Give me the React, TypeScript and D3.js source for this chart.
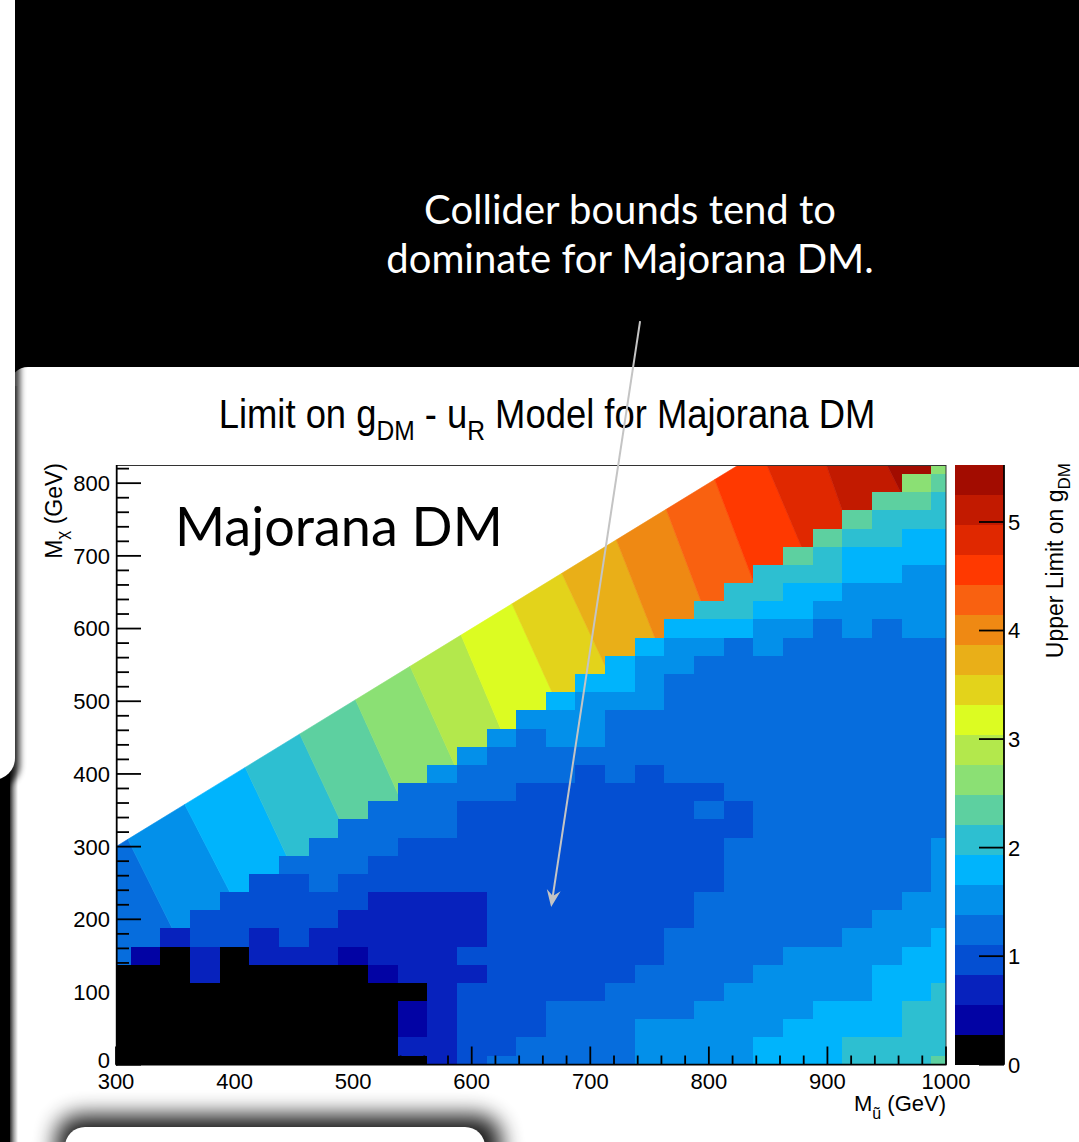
import React from "react";
import * as d3 from "d3";

const W = 1079;
const H = 1142;

// ---------- axes / categories ----------
const muColumns = [300, 325, 350, 375, 400, 425, 450, 475, 500, 525, 550, 575, 600, 625, 650, 675, 700, 725, 750, 775, 800, 825, 850, 875, 900, 925, 950, 975, 1000];
const chiRows = [0, 25, 50, 75, 100, 125, 150, 175, 200, 225, 250, 275, 300, 325, 350, 375, 400, 425, 450, 475, 500, 525, 550, 575, 600, 625, 650, 675, 700, 725, 750, 775, 800, 825];
const xMajorTicks = [300, 400, 500, 600, 700, 800, 900, 1000];
const yMajorTicks = [0, 100, 200, 300, 400, 500, 600, 700, 800];
const zTicks = [0, 1, 2, 3, 4, 5];
const zRange = [0, 5.525];

// ---------- upper limit on g_DM per M_chi row (values end at M_u = 1000) ----------
const chi000 = [0, 0, 0, 0, 0, 0, 0, 0, 0, 0, 0, 0.7, 1.0, 1.25, 1.25, 1.25, 1.25, 1.25, 1.5, 1.5, 1.5, 1.5, 1.8, 1.8, 1.8, 2.1, 2.1, 2.1, 2.35];
const chi025 = [0, 0, 0, 0, 0, 0, 0, 0, 0, 0, 0.7, 0.7, 1.0, 1.0, 1.25, 1.25, 1.25, 1.25, 1.5, 1.5, 1.5, 1.5, 1.8, 1.8, 1.8, 2.1, 2.1, 2.1, 2.1];
const chi050 = [0, 0, 0, 0, 0, 0, 0, 0, 0, 0, 0.4, 0.7, 1.0, 1.0, 1.0, 1.25, 1.25, 1.25, 1.5, 1.5, 1.5, 1.5, 1.5, 1.8, 1.8, 1.8, 1.8, 2.1, 2.1];
const chi075 = [0, 0, 0, 0, 0, 0, 0, 0, 0, 0, 0.4, 0.7, 1.0, 1.0, 1.0, 1.25, 1.25, 1.25, 1.25, 1.25, 1.5, 1.5, 1.5, 1.5, 1.8, 1.8, 1.8, 2.1, 2.1];
const chi100 = [0, 0, 0, 0, 0, 0, 0, 0, 0, 0, 0, 0.7, 1.0, 1.0, 1.0, 1.0, 1.0, 1.25, 1.25, 1.25, 1.25, 1.5, 1.5, 1.5, 1.5, 1.5, 1.8, 1.8, 2.1];
const chi125 = [0, 0, 0, 0.7, 0, 0, 0, 0, 0, 0.4, 0.7, 0.7, 0.7, 1.0, 1.0, 1.0, 1.0, 1.0, 1.25, 1.25, 1.25, 1.25, 1.5, 1.5, 1.5, 1.5, 1.8, 1.8, 1.8];
const chi150 = [0.4, 0, 0.7, 0, 0.7, 0.7, 0.7, 0.4, 0.7, 0.7, 0.7, 1.0, 1.0, 1.0, 1.0, 1.0, 1.0, 1.0, 1.25, 1.25, 1.25, 1.25, 1.5, 1.5, 1.5, 1.5, 1.8, 1.8];
const chi175 = [0.7, 1.0, 1.0, 0.7, 1.0, 0.7, 0.7, 0.7, 0.7, 0.7, 0.7, 1.0, 1.0, 1.0, 1.0, 1.0, 1.0, 1.25, 1.25, 1.25, 1.25, 1.25, 1.25, 1.5, 1.5, 1.5, 1.8];
const chi200 = [1.0, 1.0, 1.0, 1.0, 1.0, 0.7, 0.7, 0.7, 0.7, 0.7, 1.0, 1.0, 1.0, 1.0, 1.0, 1.0, 1.0, 1.25, 1.25, 1.25, 1.25, 1.25, 1.25, 1.5, 1.5, 1.5];
const chi225 = [1.0, 1.0, 1.0, 1.0, 1.0, 0.7, 0.7, 0.7, 0.7, 1.0, 1.0, 1.0, 1.0, 1.0, 1.0, 1.0, 1.25, 1.25, 1.25, 1.25, 1.25, 1.25, 1.25, 1.5, 1.5];
const chi250 = [1.0, 1.0, 1.25, 1.0, 1.0, 1.0, 1.0, 1.0, 1.0, 1.0, 1.0, 1.0, 1.0, 1.0, 1.0, 1.0, 1.25, 1.25, 1.25, 1.25, 1.25, 1.25, 1.25, 1.5];
const chi275 = [1.25, 1.25, 1.25, 1.0, 1.0, 1.0, 1.0, 1.0, 1.0, 1.0, 1.0, 1.0, 1.0, 1.0, 1.0, 1.25, 1.25, 1.25, 1.25, 1.25, 1.25, 1.25, 1.5];
const chi300 = [1.25, 1.25, 1.25, 1.0, 1.0, 1.0, 1.0, 1.0, 1.0, 1.0, 1.0, 1.0, 1.0, 1.0, 1.25, 1.25, 1.25, 1.25, 1.25, 1.25, 1.25, 1.5];
const chi325 = [1.25, 1.25, 1.25, 1.25, 1.0, 1.0, 1.0, 1.0, 1.0, 1.0, 1.0, 1.0, 1.0, 1.0, 1.25, 1.25, 1.25, 1.25, 1.25, 1.25, 1.25];
const chi350 = [1.25, 1.25, 1.25, 1.0, 1.0, 1.0, 1.0, 1.0, 1.0, 1.0, 1.0, 1.25, 1.0, 1.25, 1.25, 1.25, 1.25, 1.25, 1.25, 1.25];
const chi375 = [1.25, 1.25, 1.25, 1.25, 1.0, 1.0, 1.0, 1.0, 1.0, 1.0, 1.0, 1.25, 1.25, 1.25, 1.25, 1.25, 1.25, 1.25, 1.25];
const chi400 = [1.5, 1.25, 1.25, 1.25, 1.25, 1.0, 1.25, 1.0, 1.25, 1.25, 1.25, 1.25, 1.25, 1.25, 1.25, 1.25, 1.25, 1.25];
const chi425 = [1.5, 1.25, 1.25, 1.25, 1.25, 1.25, 1.25, 1.25, 1.25, 1.25, 1.25, 1.25, 1.25, 1.25, 1.25, 1.25, 1.25];
const chi450 = [1.5, 1.25, 1.5, 1.5, 1.25, 1.25, 1.25, 1.25, 1.25, 1.25, 1.25, 1.25, 1.25, 1.25, 1.25, 1.25];
const chi475 = [1.5, 1.5, 1.5, 1.25, 1.25, 1.25, 1.25, 1.25, 1.25, 1.25, 1.25, 1.25, 1.25, 1.25, 1.25];
const chi500 = [1.8, 1.5, 1.5, 1.5, 1.25, 1.25, 1.25, 1.25, 1.25, 1.25, 1.25, 1.25, 1.25, 1.25];
const chi525 = [1.8, 1.8, 1.5, 1.25, 1.25, 1.25, 1.25, 1.25, 1.25, 1.25, 1.25, 1.25, 1.25];
const chi550 = [1.8, 1.5, 1.5, 1.25, 1.25, 1.25, 1.25, 1.25, 1.25, 1.25, 1.25, 1.25];
const chi575 = [1.8, 1.5, 1.5, 1.25, 1.5, 1.25, 1.25, 1.25, 1.25, 1.25, 1.25];
const chi600 = [1.8, 1.8, 1.8, 1.5, 1.5, 1.25, 1.5, 1.25, 1.5, 1.5];
const chi625 = [2.1, 2.1, 1.8, 1.8, 1.5, 1.5, 1.5, 1.5, 1.5];
const chi650 = [2.1, 2.1, 1.8, 1.8, 1.5, 1.5, 1.5, 1.5];
const chi675 = [2.1, 2.1, 2.1, 1.8, 1.8, 1.5, 1.5];
const chi700 = [2.35, 2.1, 1.8, 1.8, 1.8, 1.8];
const chi725 = [2.35, 2.1, 2.1, 1.8, 1.8];
const chi750 = [2.35, 2.1, 2.1, 2.1];
const chi775 = [2.35, 2.35, 2.1];
const chi800 = [2.6, 2.35];
const chi825 = [2.6];
const cellRows = [chi000, chi025, chi050, chi075, chi100, chi125, chi150, chi175, chi200, chi225, chi250, chi275, chi300, chi325, chi350, chi375, chi400, chi425, chi450, chi475, chi500, chi525, chi550, chi575, chi600, chi625, chi650, chi675, chi700, chi725, chi750, chi775, chi800, chi825];

// ---------- interpolated strip near the M_chi = M_u diagonal ----------
// contour edges: M_u where each edge meets the diagonal, and M_u where it meets the line M_chi = M_u - 175
const contourDiagMu = [310, 358, 409, 455, 502, 548, 591, 634, 676, 722, 764, 805, 844, 886, 921];
const contourBaseMu = [351, 400, 448, 494, 540, 586, 627, 672, 715, 756, 797, 838, 880, 917, 962];
const contourBaseGap = 175;
const bandValues = [1.25, 1.5, 1.8, 2.1, 2.35, 2.6, 2.9, 3.2, 3.45, 3.7, 4.0, 4.3, 4.55, 4.85, 5.1, 5.4];

const levelColors = [
  "#000000", "#0203a4", "#0722bd", "#044fd2", "#066ddd", "#0390ea", "#00b4fc", "#2dbfd1", "#5dd0a0", "#8be074",
  "#b3e84c", "#dcfc22", "#e3d31b", "#e9af18", "#ef8913", "#f96110", "#ff3900", "#e02800", "#c21a00", "#a20c00",
];

// arrow annotation (data coordinates)
const arrowFrom = [742, 1023];
const arrowTo = [667, 217];

const rootFont = "'Liberation Sans', Arial, Helvetica, sans-serif";
const slideFont = "Lato, 'Open Sans', sans-serif";

export default function App() {
  const x = d3.scaleLinear().domain([300, 1000]).range([116, 946]);
  const y = d3.scaleLinear().domain([0, 825]).range([1064.7, 465]);
  const color = d3.scaleQuantize<string>().domain(zRange).range(levelColors);
  const cb = d3.scaleLinear().domain(zRange).range([1064.7, 465]);
  const half = 12.5;

  // cells
  const cells: { x: number; y: number; w: number; h: number; fill: string; key: string }[] = [];
  cellRows.forEach((row, j) => {
    const chi = chiRows[j];
    const start = muColumns.length - row.length;
    row.forEach((v, k) => {
      const mu = muColumns[start + k];
      const x0 = x(Math.max(300, mu - half));
      const x1 = x(Math.min(1000, mu + half));
      const y0 = y(Math.min(825, chi + half));
      const y1 = y(Math.max(0, chi - half));
      cells.push({ x: x0, y: y0, w: x1 - x0, h: y1 - y0, fill: color(v), key: `${j}-${k}` });
    });
  });

  // smooth bands
  const edgeAt = (e: { diag: number; base: number }, d: number) => {
    const mu = e.diag + ((e.base - e.diag) * d) / contourBaseGap;
    return [x(mu), y(mu - d)];
  };
  const bands = bandValues.map((v, b) => {
    const L = b === 0 ? { diag: 200, base: 240 } : { diag: contourDiagMu[b - 1], base: contourBaseMu[b - 1] };
    const R = b === bandValues.length - 1 ? { diag: 1100, base: 1140 } : { diag: contourDiagMu[b], base: contourBaseMu[b] };
    const pts = [edgeAt(L, 0), edgeAt(R, 0), edgeAt(R, 240), edgeAt(L, 240)];
    return { d: "M" + pts.map((p) => p.join(",")).join("L") + "Z", fill: color(v) };
  });

  const xMinor = d3.range(300, 1001, 20).filter((t) => t % 100 !== 0);
  const yMinor = d3.range(0, 826, 20).filter((t) => t % 100 !== 0);
  const step = (zRange[1] - zRange[0]) / levelColors.length;

  // arrow
  const ax0 = x(arrowFrom[0]), ay0 = y(arrowFrom[1]);
  const ax1 = x(arrowTo[0]), ay1 = y(arrowTo[1]);
  const len = Math.hypot(ax1 - ax0, ay1 - ay0);
  const ux = (ax1 - ax0) / len, uy = (ay1 - ay0) / len;
  const nx = -uy, ny = ux;
  const headL = 17, headW = 7, notch = 11;
  const head = [
    [ax1, ay1],
    [ax1 - headL * ux + headW * nx, ay1 - headL * uy + headW * ny],
    [ax1 - notch * ux, ay1 - notch * uy],
    [ax1 - headL * ux - headW * nx, ay1 - headL * uy - headW * ny],
  ];

  return (
    <div style={{ position: "absolute", left: 0, top: 0, width: W, height: H, overflow: "hidden" }}>
      <svg width={W} height={H} viewBox={`0 0 ${W} ${H}`} style={{ display: "block" }}>
        <defs>
          <clipPath id="plotClip">
            <rect x={116} y={465} width={830} height={1064.7 - 465} />
          </clipPath>
          <filter id="blur3" x="-50%" y="-10%" width="200%" height="120%">
            <feGaussianBlur stdDeviation="3" />
          </filter>
          <filter id="blur10" x="-20%" y="-60%" width="140%" height="220%">
            <feGaussianBlur stdDeviation="11" />
          </filter>
          <linearGradient id="panelEdge" x1="0" x2="1" y1="0" y2="0">
            <stop offset="0" stopColor="#000" stopOpacity="0.8" />
            <stop offset="0.5" stopColor="#000" stopOpacity="0.35" />
            <stop offset="1" stopColor="#000" stopOpacity="0" />
          </linearGradient>
        </defs>

        {/* slide background */}
        <rect width={W} height={H} fill="#000" />
        <rect x={10} y={367} width={1120} height={900} rx={18} fill="#fff" />
        <rect x={10} y={386} width={8} height={800} fill="url(#panelEdge)" />
        <rect x={-40} y={-28} width={60} height={815} rx={22} fill="#000" opacity={0.75} filter="url(#blur3)" />
        <rect x={-40} y={-30} width={55} height={810} rx={22} fill="#fff" />

        {/* slide text */}
        <text x={630} y={224} textAnchor="middle" fill="#fff" fontFamily={slideFont} fontSize={40}>
          Collider bounds tend to
        </text>
        <text x={630} y={273} textAnchor="middle" fill="#fff" fontFamily={slideFont} fontSize={40}>
          dominate for Majorana DM.
        </text>

        {/* title */}
        <text transform="translate(547,428) scale(0.91,1)" textAnchor="middle" fontFamily={rootFont} fontSize={40} fill="#000">
          Limit on g<tspan dy={12} fontSize={27}>DM</tspan>
          <tspan dy={-12}>{" - u"}</tspan>
          <tspan dy={12} fontSize={27}>R</tspan>
          <tspan dy={-12}>{" Model for Majorana DM"}</tspan>
        </text>

        {/* heat map */}
        <g clipPath="url(#plotClip)">
          {bands.map((b, i) => (
            <path key={i} d={b.d} fill={b.fill} stroke={b.fill} strokeWidth={0.6} />
          ))}
          <g shapeRendering="crispEdges">
            {cells.map((c) => (
              <rect key={c.key} x={c.x} y={c.y} width={c.w} height={c.h} fill={c.fill} />
            ))}
          </g>
        </g>

        {/* frame */}
        <line x1={116} x2={946} y1={465.5} y2={465.5} stroke="#333" strokeWidth={1} />
        <line x1={946} x2={946} y1={465} y2={1064.7} stroke="#333" strokeWidth={1} />
        <line x1={116.7} x2={116.7} y1={465} y2={1065.5} stroke="#000" strokeWidth={1.8} />
        <line x1={116} x2={946.5} y1={1064.7} y2={1064.7} stroke="#000" strokeWidth={1.8} />

        {/* y ticks */}
        {yMajorTicks.map((t) => (
          <g key={`ym${t}`}>
            <line x1={116} x2={141} y1={y(t)} y2={y(t)} stroke="#000" strokeWidth={1.8} />
            <text x={110} y={t === 0 ? y(t) - 5 : y(t)} dy="0.36em" textAnchor="end" fontFamily={rootFont} fontSize={22}>
              {t}
            </text>
          </g>
        ))}
        {yMinor.map((t) => (
          <line key={`yn${t}`} x1={116} x2={129} y1={y(t)} y2={y(t)} stroke="#000" strokeWidth={1.8} />
        ))}

        {/* x ticks */}
        {xMajorTicks.map((t) => (
          <g key={`xm${t}`}>
            <line x1={x(t)} x2={x(t)} y1={1064.7} y2={1046.5} stroke="#000" strokeWidth={1.8} />
            <text x={x(t)} y={1089} textAnchor="middle" fontFamily={rootFont} fontSize={22}>
              {t}
            </text>
          </g>
        ))}
        {xMinor.map((t) => (
          <line key={`xn${t}`} x1={x(t)} x2={x(t)} y1={1064.7} y2={1055.5} stroke="#000" strokeWidth={1.8} />
        ))}

        {/* axis titles */}
        <text transform="translate(62,463) rotate(-90)" textAnchor="end" fontFamily={rootFont} fontSize={23}>
          M<tspan dy={6} fontSize={17}>χ</tspan>
          <tspan dy={-6}>{" (GeV)"}</tspan>
        </text>
        <text x={946} y={1111} textAnchor="end" fontFamily={rootFont} fontSize={22}>
          M<tspan dy={8} fontSize={16}>ũ</tspan>
          <tspan dy={-8}>{" (GeV)"}</tspan>
        </text>

        {/* colour bar */}
        <g shapeRendering="crispEdges">
          {levelColors.map((c, k) => (
            <rect key={k} x={955} width={49} y={cb((k + 1) * step)} height={cb(k * step) - cb((k + 1) * step)} fill={c} />
          ))}
        </g>
        <line x1={1004} x2={1004} y1={465} y2={1064.7} stroke="#000" strokeWidth={1.8} />
        {zTicks.map((t) => (
          <g key={`z${t}`}>
            <line x1={979} x2={1004} y1={cb(t)} y2={cb(t)} stroke="#000" strokeWidth={1.8} />
            <text x={1008} y={cb(t)} dy="0.36em" fontFamily={rootFont} fontSize={22}>
              {t}
            </text>
          </g>
        ))}
        <text transform="translate(1063,463) rotate(-90)" textAnchor="end" fontFamily={rootFont} fontSize={23}>
          Upper Limit on g<tspan dy={7} fontSize={17}>DM</tspan>
        </text>

        {/* label inside plot */}
        <text x={175} y={546} fontFamily={slideFont} fontSize={54} fill="#000">
          Majorana DM
        </text>

        {/* bottom-left slide panel */}
        <rect x={56} y={1115} width={445} height={100} rx={24} fill="#000" opacity={0.9} filter="url(#blur10)" />
        <rect x={65} y={1127} width={420} height={100} rx={20} fill="#fff" />

        {/* arrow */}
        <line x1={ax0} y1={ay0} x2={ax1 - notch * ux} y2={ay1 - notch * uy} stroke="#c4c4c4" strokeWidth={2} />
        <path d={"M" + head.map((p) => p.join(",")).join("L") + "Z"} fill="#c4c4c4" />
      </svg>
    </div>
  );
}
